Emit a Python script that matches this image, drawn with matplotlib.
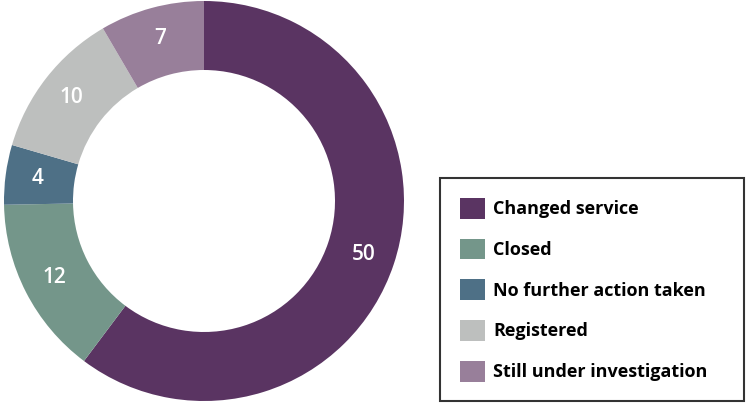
import matplotlib
matplotlib.use("Agg")
import matplotlib.pyplot as plt
import numpy as np

categories = ["Changed service", "Closed", "No further action taken",
              "Registered", "Still under investigation"]
counts = [50, 12, 4, 10, 7]
colours = ["#5a3462", "#74968a", "#4e7086", "#bdbfbe", "#987f9a"]

plt.rcParams["font.family"] = ["Open Sans", "DejaVu Sans"]

W, H = 746, 403
fig = plt.figure(figsize=(W / 100, H / 100), dpi=100)

# donut: centre (204, 201) px, outer radius 200 px
ax = fig.add_axes([4 / W, 2 / H, 400 / W, 400 / H])
wedges, texts = ax.pie(counts, colors=colours, startangle=90, counterclock=False,
                       radius=1, wedgeprops=dict(width=0.345, linewidth=0))
for w, n in zip(wedges, counts):
    ang = np.deg2rad((w.theta1 + w.theta2) / 2)
    ax.text(0.84 * np.cos(ang), 0.84 * np.sin(ang), str(n), color="white",
            ha="center", va="center", fontsize=15, fontweight="semibold")
ax.set_xlim(-1, 1)
ax.set_ylim(-1, 1)
ax.set_aspect("equal")
ax.axis("off")

leg = fig.legend(wedges, categories, loc="upper left", mode="expand",
                 bbox_to_anchor=(440 / W, 2 / H, 304 / W, 223 / H),
                 bbox_transform=fig.transFigure,
                 frameon=True, fancybox=False, edgecolor="black",
                 handlelength=1.4, handleheight=1.4, handletextpad=0.45,
                 labelspacing=1.1, borderpad=1.1, borderaxespad=0,
                 prop=dict(size=13, weight="bold"))
leg.get_frame().set_linewidth(1.5)

fig.savefig("out.png", dpi=100)
